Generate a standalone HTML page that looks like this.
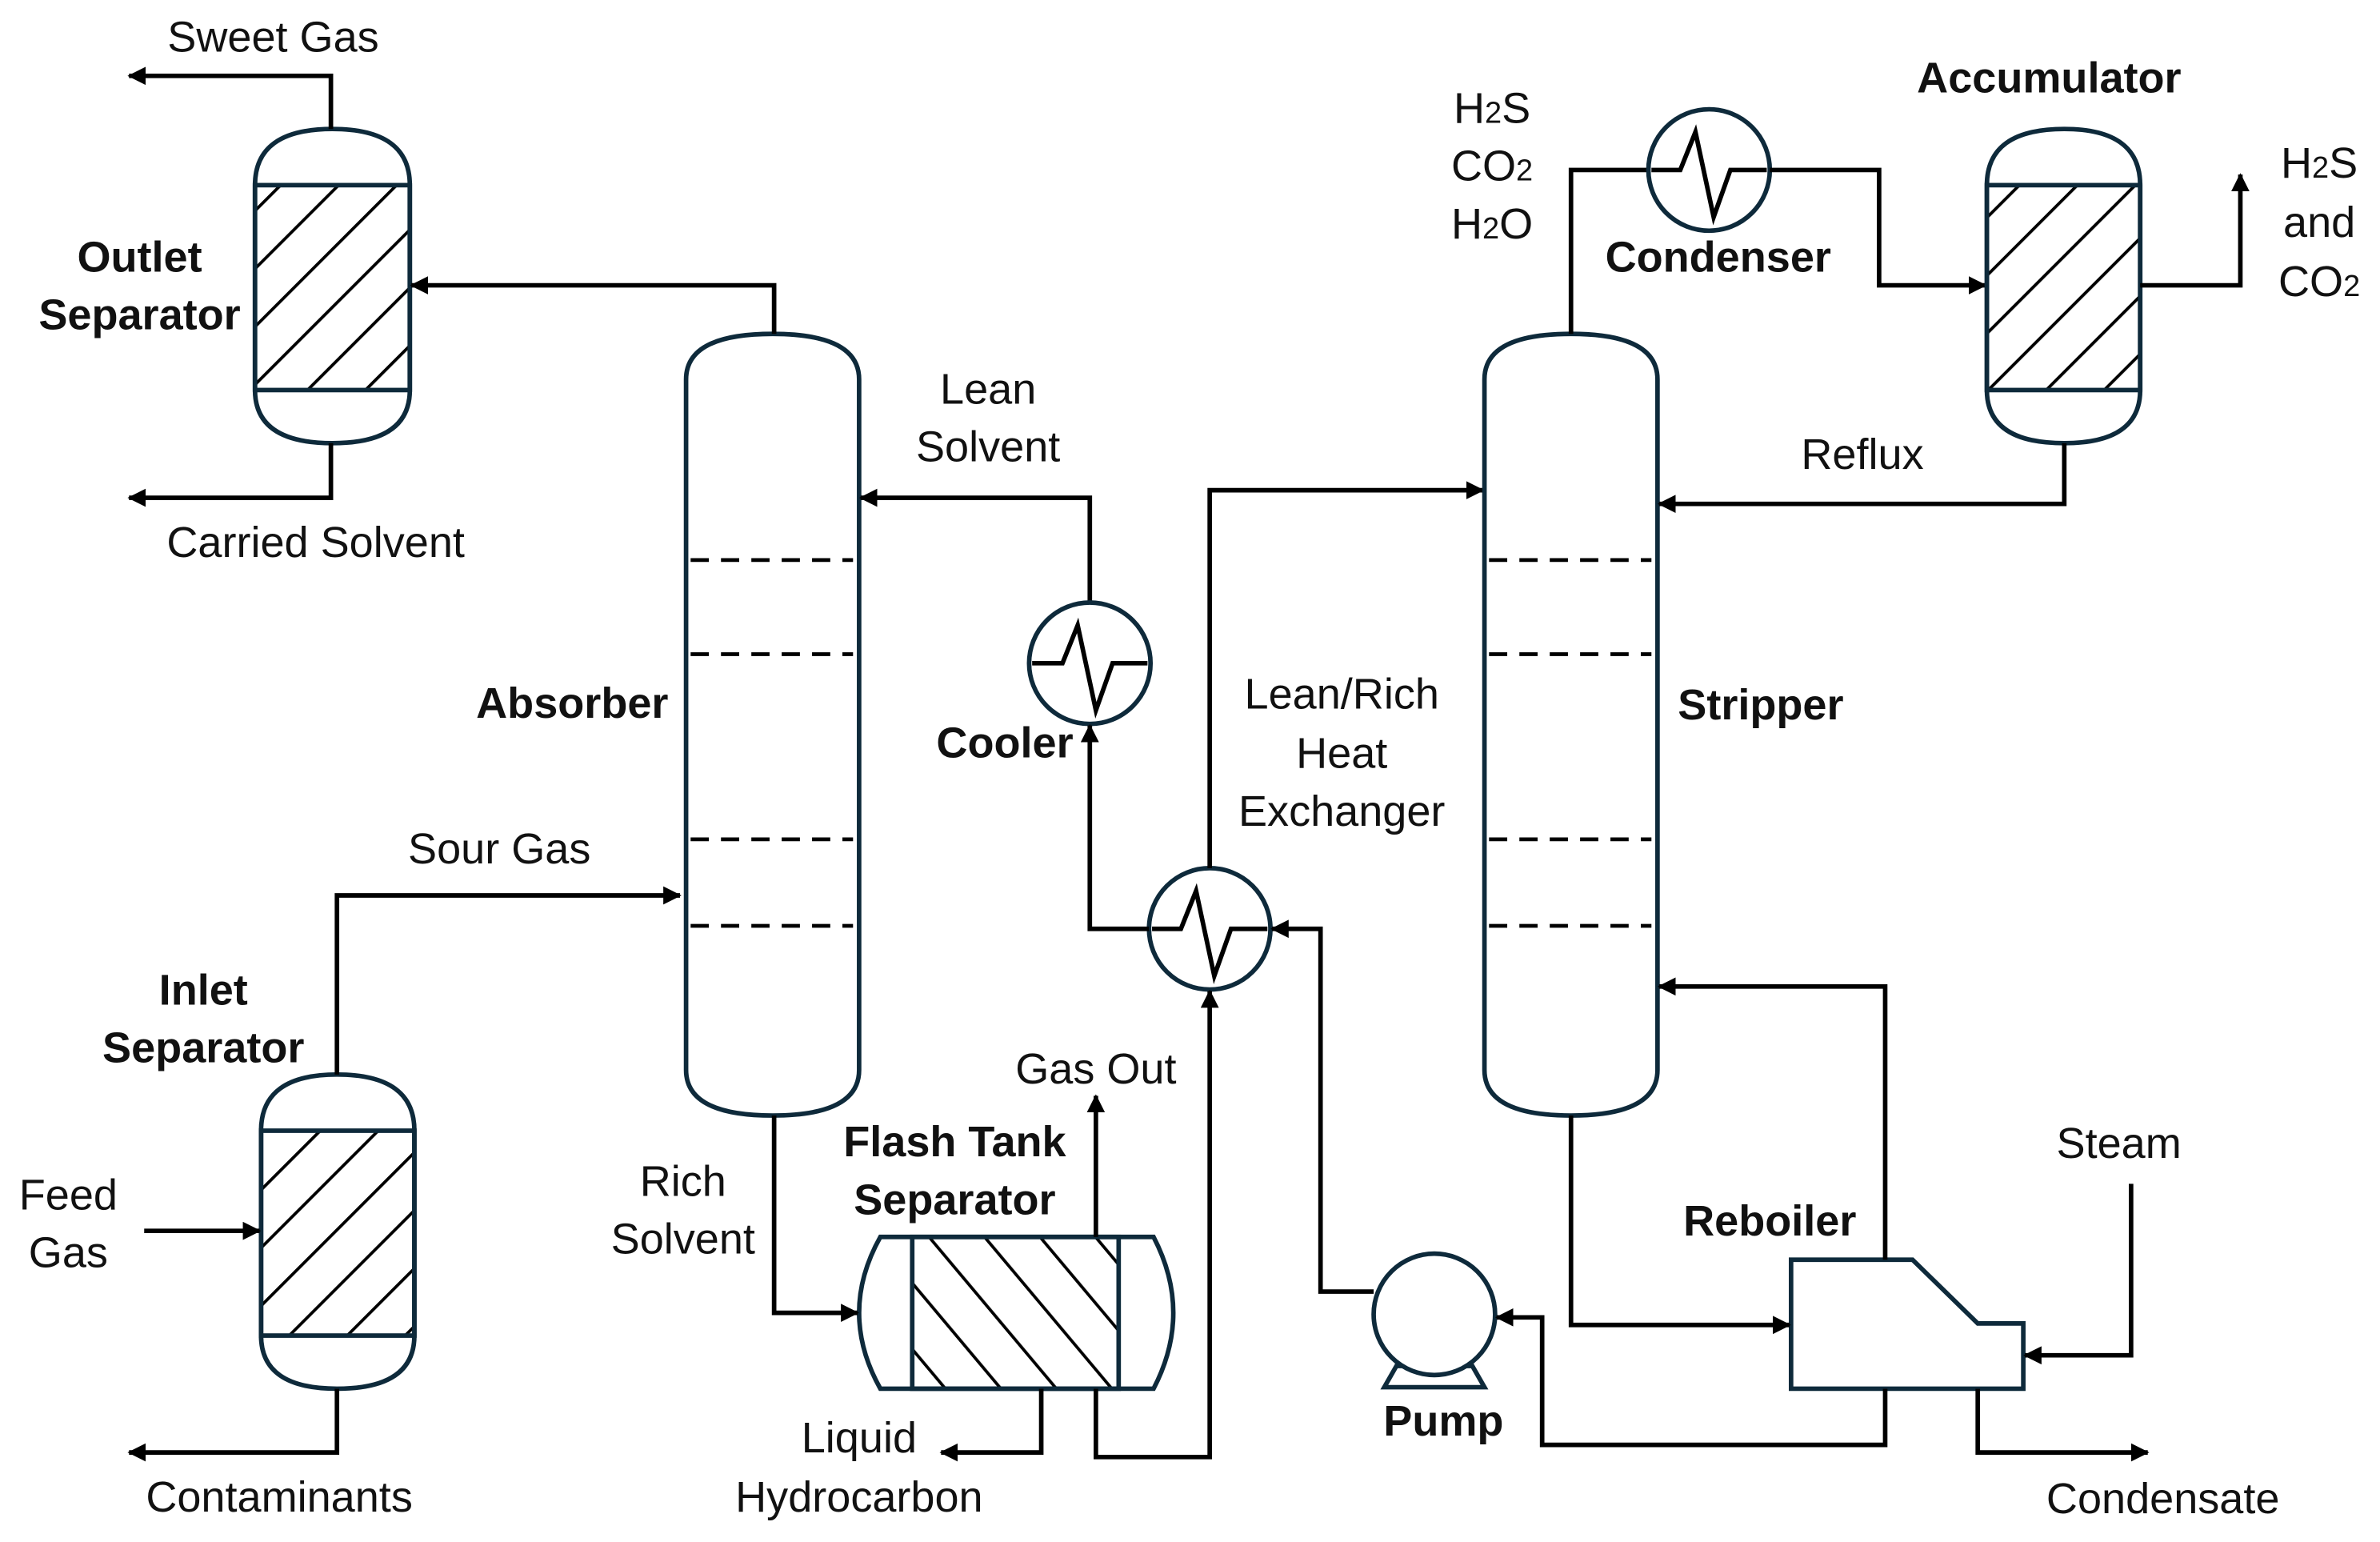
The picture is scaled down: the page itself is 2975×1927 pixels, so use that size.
<!DOCTYPE html>
<html><head><meta charset="utf-8"><style>
html,body{margin:0;padding:0;background:#fff;}
svg{display:block;}
text{font-family:"Liberation Sans",Arial,sans-serif;font-size:28.5px;fill:#111;text-anchor:middle;}
.b{font-weight:bold;}
.v{fill:#fff;stroke:#0e2a3b;stroke-width:3;}
.l{fill:none;stroke:#000;stroke-width:3;}
.d{stroke:#000;stroke-width:2.5;stroke-dasharray:12,8;}
</style></head><body>
<svg width="2975" height="1927" viewBox="0 0 1568 1016" preserveAspectRatio="none" xmlns="http://www.w3.org/2000/svg">
<defs>
<marker id="a" markerWidth="12" markerHeight="12" refX="11" refY="6" orient="auto" markerUnits="userSpaceOnUse" viewBox="0 0 12 12"><path d="M0,0 L12,6 L0,12 z" fill="#000"/></marker>
<pattern id="h" patternUnits="userSpaceOnUse" width="27" height="27" patternTransform="rotate(45)"><line x1="0" y1="0" x2="0" y2="27" stroke="#000" stroke-width="4"/></pattern>
<pattern id="h2" patternUnits="userSpaceOnUse" width="28" height="28" patternTransform="rotate(-40)"><line x1="0" y1="0" x2="0" y2="28" stroke="#000" stroke-width="4"/></pattern>
</defs>

<!-- Outlet separator -->
<path class="v" d="M168,122 Q168,85 219,85 Q270,85 270,122 L270,257 Q270,292 219,292 Q168,292 168,257 Z"/>
<rect x="168" y="122" width="102" height="135" fill="url(#h)" stroke="#0e2a3b" stroke-width="3"/>
<polyline class="l" points="218,85 218,50 85,50" marker-end="url(#a)"/>
<polyline class="l" points="218,292 218,328 85,328" marker-end="url(#a)"/>
<text x="180" y="34">Sweet Gas</text>
<text x="208" y="367">Carried Solvent</text>
<text class="b" x="92" y="179">Outlet</text>
<text class="b" x="92" y="217">Separator</text>

<!-- Absorber -->
<path class="v" d="M452,250 Q452,220 509,220 Q566,220 566,250 L566,705 Q566,735 509,735 Q452,735 452,705 Z"/>
<line class="d" x1="455" y1="369" x2="562" y2="369"/><line class="d" x1="455" y1="431" x2="562" y2="431"/>
<line class="d" x1="455" y1="553" x2="562" y2="553"/><line class="d" x1="455" y1="610" x2="562" y2="610"/>
<polyline class="l" points="510,220 510,188 271,188" marker-end="url(#a)"/>
<text class="b" x="377" y="473">Absorber</text>

<!-- Inlet separator -->
<path class="v" d="M172,745 Q172,708 222,708 Q273,708 273,745 L273,880 Q273,915 222,915 Q172,915 172,880 Z"/>
<rect x="172" y="745" width="101" height="135" fill="url(#h)" stroke="#0e2a3b" stroke-width="3"/>
<polyline class="l" points="222,708 222,590 448,590" marker-end="url(#a)"/>
<polyline class="l" points="95,811 171,811" marker-end="url(#a)"/>
<polyline class="l" points="222,915 222,957 85,957" marker-end="url(#a)"/>
<text x="329" y="569">Sour Gas</text>
<text x="45" y="797">Feed</text><text x="45" y="835">Gas</text>
<text x="184" y="996">Contaminants</text>
<text class="b" x="134" y="662">Inlet</text><text class="b" x="134" y="700">Separator</text>

<!-- Lean solvent / cooler -->
<polyline class="l" points="718,397 718,328 567,328" marker-end="url(#a)"/>
<text x="651" y="266">Lean</text><text x="651" y="304">Solvent</text>
<circle class="v" cx="718" cy="437" r="40"/>
<polyline class="l" points="680,437 700,437 710,412 722,468 733,437 756,437"/>
<text class="b" x="662" y="499">Cooler</text>

<!-- HX -->
<circle class="v" cx="797" cy="612" r="40"/>
<polyline class="l" points="759,612 778,612 788,587 800,643 811,612 835,612"/>
<polyline class="l" points="757,612 718,612 718,478" marker-end="url(#a)"/>
<polyline class="l" points="797,572 797,323 977,323" marker-end="url(#a)"/>
<text x="884" y="467">Lean/Rich</text><text x="884" y="506">Heat</text><text x="884" y="544">Exchanger</text>

<!-- Flash tank -->
<path class="v" d="M580,815 L760,815 Q773,840 773,865 Q773,890 760,915 L580,915 Q566,890 566,865 Q566,840 580,815 Z"/>
<rect x="601" y="815" width="136" height="100" fill="url(#h2)" stroke="#0e2a3b" stroke-width="3"/>
<polyline class="l" points="510,735 510,865 565,865" marker-end="url(#a)"/>
<polyline class="l" points="722,815 722,722" marker-end="url(#a)"/>
<polyline class="l" points="686,915 686,957 620,957" marker-end="url(#a)"/>
<polyline class="l" points="722,915 722,960 797,960 797,653" marker-end="url(#a)"/>
<text x="450" y="788">Rich</text><text x="450" y="826">Solvent</text>
<text x="722" y="714">Gas Out</text>
<text class="b" x="629" y="762">Flash Tank</text><text class="b" x="629" y="800">Separator</text>
<text x="566" y="957">Liquid</text><text x="566" y="996">Hydrocarbon</text>

<!-- Pump -->
<polyline class="l" points="905,851 870,851 870,612 838,612" marker-end="url(#a)"/>
<path class="v" d="M920,900 L912,914 L978,914 L970,900 Z"/>
<circle class="v" cx="945" cy="866" r="40"/>
<text class="b" x="951" y="946">Pump</text>

<!-- Stripper -->
<path class="v" d="M978,250 Q978,220 1035,220 Q1092,220 1092,250 L1092,705 Q1092,735 1035,735 Q978,735 978,705 Z"/>
<line class="d" x1="981" y1="369" x2="1088" y2="369"/><line class="d" x1="981" y1="431" x2="1088" y2="431"/>
<line class="d" x1="981" y1="553" x2="1088" y2="553"/><line class="d" x1="981" y1="610" x2="1088" y2="610"/>
<text class="b" x="1160" y="474">Stripper</text>

<!-- Condenser -->
<polyline class="l" points="1035,220 1035,112 1086,112"/>
<circle class="v" cx="1126" cy="112" r="40"/>
<polyline class="l" points="1088,112 1107,112 1117,87 1129,143 1140,112 1164,112"/>
<polyline class="l" points="1166,112 1238,112 1238,188 1308,188" marker-end="url(#a)"/>
<text x="983" y="81">H<tspan font-size="20">2</tspan>S</text>
<text x="983" y="119">CO<tspan font-size="20">2</tspan></text>
<text x="983" y="157">H<tspan font-size="20">2</tspan>O</text>
<text class="b" x="1132" y="179">Condenser</text>

<!-- Accumulator -->
<path class="v" d="M1309,122 Q1309,85 1360,85 Q1410,85 1410,122 L1410,257 Q1410,292 1360,292 Q1309,292 1309,257 Z"/>
<rect x="1309" y="122" width="101" height="135" fill="url(#h)" stroke="#0e2a3b" stroke-width="3"/>
<polyline class="l" points="1410,188 1476,188 1476,115" marker-end="url(#a)"/>
<polyline class="l" points="1360,292 1360,332 1093,332" marker-end="url(#a)"/>
<text class="b" x="1350" y="61">Accumulator</text>
<text x="1528" y="117">H<tspan font-size="20">2</tspan>S</text>
<text x="1528" y="156">and</text>
<text x="1528" y="195">CO<tspan font-size="20">2</tspan></text>
<text x="1227" y="309">Reflux</text>

<!-- Reboiler -->
<polygon class="v" points="1180,830 1260,830 1303,872 1333,872 1333,915 1180,915"/>
<polyline class="l" points="1035,735 1035,873 1179,873" marker-end="url(#a)"/>
<polyline class="l" points="1242,830 1242,650 1093,650" marker-end="url(#a)"/>
<polyline class="l" points="1404,780 1404,893 1334,893" marker-end="url(#a)"/>
<polyline class="l" points="1303,915 1303,957 1415,957" marker-end="url(#a)"/>
<polyline class="l" points="1242,915 1242,952 1016,952 1016,868 986,868" marker-end="url(#a)"/>
<text class="b" x="1166" y="814">Reboiler</text>
<text x="1396" y="763">Steam</text>
<text x="1425" y="997">Condensate</text>
</svg>
</body></html>
